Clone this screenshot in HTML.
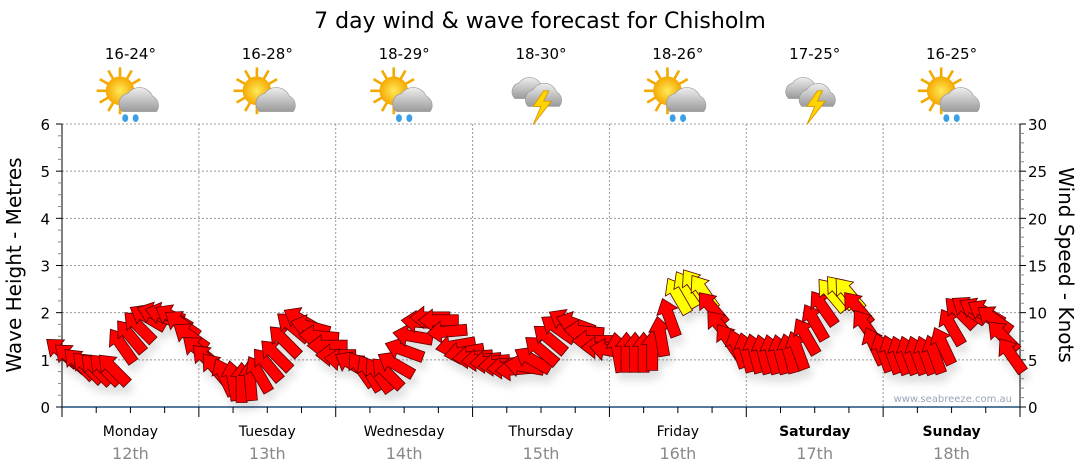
<!DOCTYPE html>
<html><head><meta charset="utf-8"><style>
body{margin:0;background:#fff;}
svg{display:block;font-family:"DejaVu Sans","Liberation Sans",sans-serif;}
</style></head><body>
<svg id="chart" width="1080" height="475" viewBox="0 0 1080 475">
<defs>
<filter id="sh" x="-50%" y="-50%" width="200%" height="200%"><feDropShadow dx="3" dy="8" stdDeviation="4" flood-color="#000" flood-opacity="0.12"/></filter>
<radialGradient id="sun" cx="50%" cy="50%" r="50%"><stop offset="0" stop-color="#ffe95a"/><stop offset="1" stop-color="#f5a800"/></radialGradient>
<linearGradient id="cloud" x1="0" y1="0" x2="0" y2="1"><stop offset="0" stop-color="#eeeeee"/><stop offset="1" stop-color="#9a9a9a"/></linearGradient>
</defs>
<text x="540" y="28" text-anchor="middle" font-size="22" fill="#000">7 day wind &amp; wave forecast for Chisholm</text>
<g id="grid"></g>
<g id="axes"></g>
<g id="icons"></g>
<text x="1012" y="402" text-anchor="end" font-size="10" fill="#9aa3b8">www.seabreeze.com.au</text>
<g id="arrows" filter="url(#sh)"></g>
<text transform="translate(21,265) rotate(-90)" text-anchor="middle" font-size="20">Wave Height - Metres</text>
<text transform="translate(1059,265) rotate(90)" text-anchor="middle" font-size="20">Wind Speed - Knots</text>
</svg>
<script>
const days=["Monday","Tuesday","Wednesday","Thursday","Friday","Saturday","Sunday"];
const dates=["12th","13th","14th","15th","16th","17th","18th"];
const temps=["16-24°","16-28°","18-29°","18-30°","18-26°","17-25°","16-25°"];
const icons=["sunrain","suncloud","sunrain","storm","sunrain","storm","sunrain"];
const waveTicks=[0,1,2,3,4,5,6];
const windTicks=[0,5,10,15,20,25,30];
const speeds=[5.8,5.2,4.6,4.2,4.0,4.0,4.0,6.5,7.5,8.5,9.5,9.8,9.8,9.5,8.8,7.5,
6.0,5.0,4.0,3.2,2.8,2.6,2.8,3.5,4.5,5.5,7.0,8.5,9.2,8.5,7.5,6.5,
5.5,5.0,4.5,4.0,3.6,3.4,3.6,4.5,6.0,7.5,9.0,9.5,9.2,8.0,6.5,5.8,
5.3,5.0,4.8,4.5,4.2,4.0,4.3,5.0,6.0,7.2,8.3,9.0,8.8,8.0,7.0,6.3,
6.0,5.8,5.8,5.8,5.8,6.0,7.5,9.5,11.8,12.5,12.8,12.2,10.5,8.5,7.0,6.2,
5.8,5.7,5.6,5.6,5.6,5.7,6.0,7.5,9.0,10.5,11.9,12.2,12.0,10.5,8.5,6.5,
5.8,5.6,5.5,5.5,5.5,5.5,5.6,6.5,8.5,10.0,10.3,10.2,10.0,9.3,7.5,5.5];
const dirs=[-50,-50,-45,-45,-45,-45,-45,-35,-40,-45,-60,-70,-75,-60,-55,-55,
-50,-45,-40,-25,-10,0,-5,-30,-40,-45,-45,-50,-60,-75,-85,-90,
-90,-85,-60,-35,-30,-35,-45,-60,-70,-80,-85,-90,-90,-95,-100,-100,
-95,-95,-95,-95,-95,-95,-80,-60,-50,-50,-55,-60,-70,-85,-90,-90,
-80,-10,0,0,0,0,-10,-20,-30,-30,-35,-35,-40,-40,-35,-20,
-15,-15,-15,-15,-15,-15,-20,-30,-30,-35,-40,-40,-40,-40,-35,-25,
-20,-20,-20,-20,-20,-20,-20,-25,-30,-45,-55,-60,-60,-55,-45,-35];
const NS="http://www.w3.org/2000/svg";
const X0=62,X1=1020,Y0=407,Y1=124;
const dayW=(X1-X0)/7;
function xT(t){return X0+t*dayW;}
function yW(m){return Y0-(m/6)*(Y0-Y1);}
function yK(k){return Y0-(k/30)*(Y0-Y1);}
function mk(tag,attrs,parent){const e=document.createElementNS(NS,tag);for(const k in attrs)e.setAttribute(k,attrs[k]);parent.appendChild(e);return e;}
const grid=document.getElementById('grid'),axes=document.getElementById('axes'),ic=document.getElementById('icons'),ar=document.getElementById('arrows');
waveTicks.forEach(v=>{if(v>0){const l=mk('line',{x1:X0,x2:X1,y1:yW(v),y2:yW(v),stroke:'#999','stroke-dasharray':'2,2','stroke-width':1},grid);

}});
for(let d=1;d<7;d++){const l=mk('line',{x1:xT(d),x2:xT(d),y1:Y1,y2:Y0,stroke:'#999','stroke-dasharray':'2,2','stroke-width':1},grid);

}
mk('line',{x1:X0,x2:X0,y1:Y1,y2:Y0+8,stroke:'#000'},axes);
mk('line',{x1:X1,x2:X1,y1:Y1,y2:Y0+8,stroke:'#000'},axes);
mk('line',{x1:X0,x2:X1,y1:Y0,y2:Y0,stroke:'#1f4e79','stroke-width':1.5},axes);
for(let i=0;i<=24;i++){const y=yW(i/4);mk('line',{x1:X0-(i%4?4:6),x2:X0,y1:y,y2:y,stroke:i%4?'#888':'#000'},axes);}
for(let i=0;i<=30;i++){const y=yK(i);mk('line',{x1:X1,x2:X1+(i%5?4:6),y1:y,y2:y,stroke:i%5?'#888':'#000'},axes);}
waveTicks.forEach(v=>{const t=mk('text',{x:X0-12,y:yW(v)+6,'text-anchor':'end','font-size':15},axes);t.textContent=v;

});
windTicks.forEach(v=>{const t=mk('text',{x:X1+8,y:yK(v)+6,'font-size':15},axes);t.textContent=v;

});
for(let i=0;i<=28;i++){const x=xT(i/4);mk('line',{x1:x,x2:x,y1:Y0,y2:Y0+(i%4?6:10),stroke:'#000'},axes);}
days.forEach((d,i)=>{const cx=xT(i+0.5);
const t=mk('text',{x:cx,y:436,'text-anchor':'middle','font-size':14,'font-weight':(i>=5?'bold':'normal')},axes);t.textContent=d;


const t2=mk('text',{x:cx,y:459,'text-anchor':'middle','font-size':16,fill:'#888'},axes);t2.textContent=dates[i];


const t3=mk('text',{x:cx,y:59,'text-anchor':'middle','font-size':15},ic);t3.textContent=temps[i];


const g=mk('g',{transform:`translate(${cx},96) scale(1.3)`},ic);


const type=icons[i];
if(type!=='storm'){
 for(let r=0;r<12;r++){const a=r*30*Math.PI/180;mk('line',{x1:-8+Math.cos(a)*10,y1:-4+Math.sin(a)*10,x2:-8+Math.cos(a)*18,y2:-4+Math.sin(a)*18,stroke:'#f2a900','stroke-width':2},g);}
 mk('circle',{cx:-8,cy:-4,r:11,fill:'url(#sun)'},g);
 mk('path',{d:'M-6,12 a8,8 0 0 1 4,-14 a11,11 0 0 1 19,2 a8,8 0 0 1 3,12 z',fill:'url(#cloud)',stroke:'#999','stroke-width':0.5},g);
 if(type==='sunrain'){[-4,4].forEach(dx=>mk('ellipse',{cx:dx,cy:17,rx:2.3,ry:3,fill:'#3aa0e6'},g));}
}else{
 mk('path',{d:'M-20,2 a7,7 0 0 1 3,-12 a10,10 0 0 1 17,1 a7,7 0 0 1 2,11 z',fill:'url(#cloud)',stroke:'#999','stroke-width':0.5},g);
 mk('path',{d:'M-10,8 a8,8 0 0 1 4,-13 a10,10 0 0 1 18,2 a7,7 0 0 1 2,11 z',fill:'url(#cloud)',stroke:'#999','stroke-width':0.5},g);
 mk('path',{d:'M2,-4 L-6,8 L0,8 L-6,22 L8,4 L2,4 L6,-4 z',fill:'#ffd400',stroke:'#d99a00','stroke-width':0.7},g);
}
});
const step=dayW/16;
speeds.forEach((s,i)=>{const cx=X0+i*step,cy=yK(s);
 const p=mk('path',{d:'M0,-20 L11,-6 L5.5,-6 L5.5,20 L-5.5,20 L-5.5,-6 L-11,-6 Z',fill:s>=11.8?'#ffff00':'#ff0000',stroke:'#5a0000','stroke-width':0.8,'stroke-linejoin':'miter',transform:`translate(${cx},${cy}) rotate(${dirs[i]})`},ar);
 
 
});
</script>
</body></html>
